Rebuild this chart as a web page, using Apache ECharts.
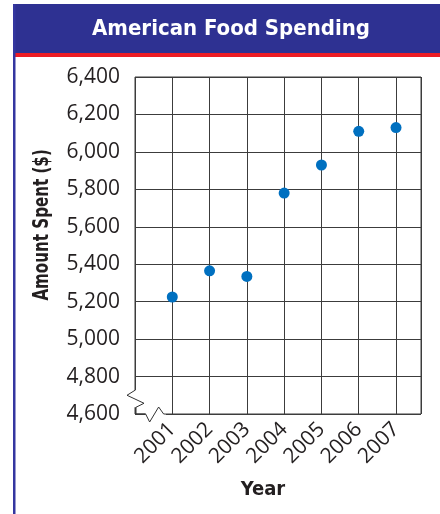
<!DOCTYPE html>
<html>
<head>
<meta charset="utf-8">
<style>
  html, body { margin: 0; padding: 0; background: #ffffff; }
  #chart { width: 440px; height: 514px; }
</style>
<script src="https://cdn.jsdelivr.net/npm/echarts@6/dist/echarts.min.js"></script>
</head>
<body>
<div id="chart"></div>
<script>
// Yearly food spending per household, in dollars
const years = [2001, 2002, 2003, 2004, 2005, 2006, 2007];
const amountSpent = [5225, 5365, 5335, 5780, 5930, 6110, 6130];
const yTicks = [4600, 4800, 5000, 5200, 5400, 5600, 5800, 6000, 6200, 6400];

const titleText = 'American Food Spending';
const xName = 'Year';
const yName = 'Amount Spent ($)';

const condensedBold = "'Liberation Sans Narrow', 'DejaVu Sans Condensed', 'Roboto Condensed', sans-serif";
const labelFont = "'Open Sans', 'Noto Sans', sans-serif";
const ink = '#231f20';
const gridInk = '#3c3c3c';

const chart = echarts.init(document.getElementById('chart'), null, { renderer: 'canvas' });

const points = years.map((y, i) => [y, amountSpent[i]]);

chart.setOption({
  animation: false,
  backgroundColor: '#ffffff',
  title: {
    text: titleText,
    left: 226,
    top: 13,
    textAlign: 'center',
    textStyle: {
      color: '#ffffff',
      fontFamily: condensedBold,
      fontWeight: 'bold',
      fontSize: 22
    },
    z: 10
  },
  grid: {
    left: 135, top: 77, right: 19, bottom: 100,
    show: true,
    borderColor: gridInk,
    borderWidth: 1,
    backgroundColor: 'transparent'
  },
  xAxis: {
    type: 'value',
    min: 2000,
    max: 2007.67,
    interval: 1,
    name: xName,
    nameLocation: 'middle',
    nameGap: 66,
    nameTextStyle: {
      color: ink,
      fontFamily: condensedBold,
      fontWeight: 'bold',
      fontSize: 20,
      padding: [0, 30, 0, 0]
    },
    axisLine: { show: false },
    axisTick: { show: false },
    splitLine: { show: true, lineStyle: { color: gridInk, width: 1 } },
    axisLabel: {
      rotate: 45,
      margin: 12,
      color: ink,
      fontFamily: labelFont,
      fontSize: 21,
      showMinLabel: false,
      showMaxLabel: false,
      formatter: v => (years.indexOf(v) >= 0 ? String(v) : '')
    }
  },
  yAxis: {
    type: 'value',
    min: yTicks[0],
    max: yTicks[yTicks.length - 1],
    interval: 200,
    axisLine: { show: false },
    axisTick: { show: false },
    splitLine: { show: true, lineStyle: { color: gridInk, width: 1 } },
    axisLabel: {
      margin: 15,
      color: ink,
      fontFamily: labelFont,
      fontSize: 21,
      formatter: v => v.toLocaleString('en-US')
    }
  },
  series: [{
    type: 'scatter',
    data: points,
    symbol: 'circle',
    symbolSize: 11,
    itemStyle: { color: '#0070c0', opacity: 1 },
    z: 5
  }]
});

// Frame decorations: header band, red rule, left border, y-axis title and the axis break marks
function drawDecorations() {
  const origin = chart.convertToPixel({ gridIndex: 0 }, [2000, 4600]);
  const ox = origin[0], oy = origin[1];
  const yBreak = chart.convertToPixel({ gridIndex: 0 }, [2000, 4700])[1];
  const xBreak = chart.convertToPixel({ gridIndex: 0 }, [2000.5, 4600])[0];
  const yTitleY = chart.convertToPixel({ gridIndex: 0 }, [2000, 5610])[1];
  const W = chart.getWidth(), H = chart.getHeight();

  chart.setOption({
    graphic: [
      { type: 'rect', z: -1, shape: { x: 13, y: 4, width: W - 13, height: 50 }, style: { fill: '#2e3192' } },
      { type: 'rect', z: -1, shape: { x: 13, y: 53, width: W - 13, height: 4 }, style: { fill: '#ed1c24' } },
      { type: 'rect', z: -1, shape: { x: 13, y: 4, width: 2.5, height: H - 4 }, style: { fill: '#3436a0' } },
      // vertical axis title, set in a narrow bold face
      {
        type: 'text', z: 10,
        x: ox - 92, y: yTitleY,
        rotation: Math.PI / 2,
        scaleX: 0.8,
        style: {
          text: yName,
          fill: ink,
          font: "bold 21px " + condensedBold,
          align: 'center',
          verticalAlign: 'middle'
        }
      },
      // gap in the vertical axis
      { type: 'rect', z: 20, shape: { x: ox - 2, y: yBreak - 5, width: 4, height: 17 }, style: { fill: '#ffffff' } },
      {
        type: 'polyline', z: 21,
        shape: { points: [[ox, yBreak - 5], [ox - 8, yBreak], [ox + 9, yBreak + 8], [ox + 1, yBreak + 12], [ox + 1, oy]] },
        style: { stroke: '#333', lineWidth: 1, fill: null }
      },
      // gap in the horizontal axis
      { type: 'rect', z: 20, shape: { x: xBreak - 8, y: oy - 2, width: 20, height: 4 }, style: { fill: '#ffffff' } },
      {
        type: 'polyline', z: 21,
        shape: { points: [[ox, oy], [xBreak - 8, oy], [xBreak - 4, oy + 8], [xBreak + 5, oy - 7], [xBreak + 10, oy], [xBreak + 12, oy]] },
        style: { stroke: '#333', lineWidth: 1, fill: null }
      }
    ]
  });
}
drawDecorations();
</script>
</body>
</html>
